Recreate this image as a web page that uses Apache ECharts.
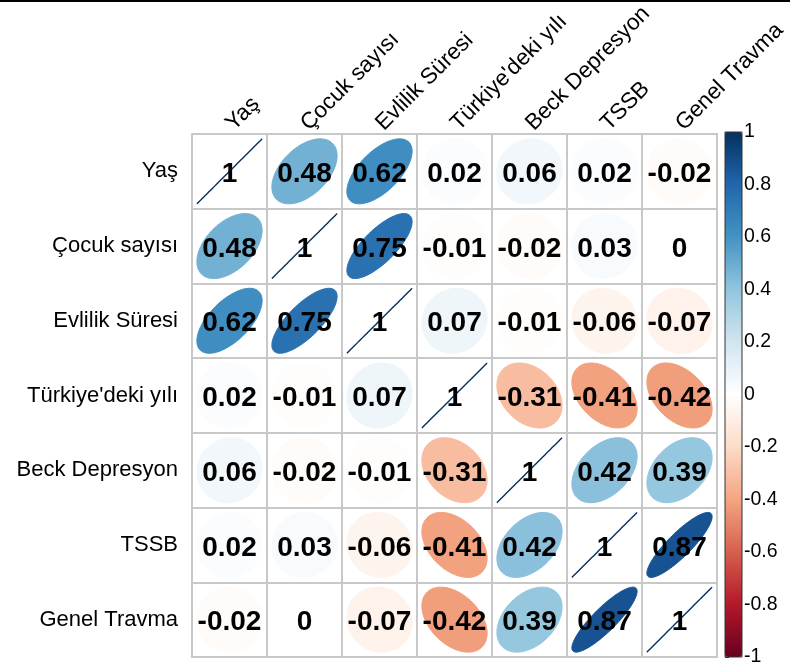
<!DOCTYPE html>
<html>
<head>
<meta charset="utf-8">
<script src="https://cdn.jsdelivr.net/npm/echarts@6/dist/echarts.min.js"></script>
<style>
  html, body { margin: 0; padding: 0; background: #fff; }
  #chart { width: 790px; height: 671px; }
</style>
</head>
<body>
<div id="chart"></div>
<script>
// Variable names (rows top to bottom, columns left to right)
const variables = ['Yaş', 'Çocuk sayısı', 'Evlilik Süresi', "Türkiye'deki yılı", 'Beck Depresyon', 'TSSB', 'Genel Travma'];

// Correlation matrix, one row per variable
const rowYas      = [1, 0.48, 0.62, 0.02, 0.06, 0.02, -0.02];
const rowCocuk    = [0.48, 1, 0.75, -0.01, -0.02, 0.03, 0];
const rowEvlilik  = [0.62, 0.75, 1, 0.07, -0.01, -0.06, -0.07];
const rowTurkiye  = [0.02, -0.01, 0.07, 1, -0.31, -0.41, -0.42];
const rowBeck     = [0.06, -0.02, -0.01, -0.31, 1, 0.42, 0.39];
const rowTSSB     = [0.02, 0.03, -0.06, -0.41, 0.42, 1, 0.87];
const rowGenel    = [-0.02, 0, -0.07, -0.42, 0.39, 0.87, 1];
const corrRows = [rowYas, rowCocuk, rowEvlilik, rowTurkiye, rowBeck, rowTSSB, rowGenel];

// Colour bar ticks
const barTicksMin = -1, barTicksMax = 1, barTickStep = 0.2;

// RdBu diverging palette, low to high
const palette = ['#67001F', '#B2182B', '#D6604D', '#F4A582', '#FDDBC7', '#FFFFFF',
                 '#D1E5F0', '#92C5DE', '#4393C3', '#2166AC', '#053061'];

const cells = [];
corrRows.forEach((row, yi) => row.forEach((r, xi) => cells.push([xi, yi, r])));

const FONT = '"Liberation Sans", Arial, sans-serif';
const GL = 192, GT = 132, GS = 525;

function renderCell(params, api) {
  const xi = api.value(0), yi = api.value(1), r = api.value(2);
  const c = api.coord([xi, yi]);
  const size = api.size([1, 1]);
  const color = api.visual('color');
  const a = Math.acos(Math.max(-1, Math.min(1, r)));
  const pts = [];
  const n = 99;
  for (let i = 0; i < n; i++) {
    const k = 2 * Math.PI * i / (n - 1);
    const ex = Math.cos(k + a / 2) / 2 * 0.87 * size[0];
    const ey = Math.cos(k - a / 2) / 2 * 0.87 * size[1];
    pts.push([c[0] + ex, c[1] - ey]);
  }
  const children = [];
  if (Math.abs(r) >= 0.999) {
    children.push({
      type: 'polyline',
      shape: { points: pts },
      style: { stroke: color, lineWidth: 1.4, fill: null }
    });
  } else {
    children.push({
      type: 'polygon',
      shape: { points: pts },
      style: { fill: color, stroke: color, lineWidth: 1 }
    });
  }
  children.push({
    type: 'text',
    x: c[0],
    y: c[1] + 3,
    z2: 10,
    style: {
      text: String(r),
      align: 'center',
      verticalAlign: 'middle',
      fill: '#000',
      fontSize: 28,
      fontWeight: 'bold',
      fontFamily: FONT
    }
  });
  return { type: 'group', children: children };
}

const chart = echarts.init(document.getElementById('chart'), null, { renderer: 'canvas' });
chart.setOption({
  animation: false,
  backgroundColor: '#fff',
  textStyle: { fontFamily: FONT },
  grid: [
    { left: GL, top: GT, width: GS, height: GS, show: true, borderColor: '#c8c8c8', borderWidth: 2, backgroundColor: 'transparent' },
    { left: 725, top: GT, width: 17, height: GS, show: false }
  ],
  xAxis: [
    {
      gridIndex: 0, type: 'category', data: variables, position: 'top',
      axisLine: { show: false }, axisTick: { show: false },
      splitLine: { show: true, lineStyle: { color: '#c8c8c8', width: 2 } },
      axisLabel: { rotate: -45, align: 'left', verticalAlign: 'middle', color: '#000', fontSize: 22.5, fontFamily: FONT, margin: 7, interval: 0 }
    },
    { gridIndex: 1, type: 'value', show: false, min: 0, max: 1 }
  ],
  yAxis: [
    {
      gridIndex: 0, type: 'category', data: variables, inverse: true,
      axisLine: { show: false }, axisTick: { show: false },
      splitLine: { show: true, lineStyle: { color: '#c8c8c8', width: 2 } },
      axisLabel: { color: '#000', fontSize: 22, fontFamily: FONT, margin: 14, interval: 0 }
    },
    {
      gridIndex: 1, type: 'value', position: 'right',
      min: barTicksMin, max: barTicksMax, interval: barTickStep,
      axisLine: { show: false },
      axisTick: { show: true, length: 4, lineStyle: { color: '#333', width: 1 } },
      splitLine: { show: false },
      axisLabel: { color: '#000', fontSize: 19.5, fontFamily: FONT, margin: 2 }
    }
  ],
  visualMap: {
    type: 'continuous',
    min: -1, max: 1,
    dimension: 2,
    seriesIndex: 0,
    orient: 'vertical',
    left: 725, top: GT,
    itemWidth: 17, itemHeight: GS,
    padding: 0,
    calculable: false,
    hoverLink: false,
    text: null,
    inRange: { color: palette }
  },
  series: [
    {
      type: 'custom',
      xAxisIndex: 0, yAxisIndex: 0,
      data: cells,
      encode: { x: 0, y: 1 },
      renderItem: renderCell,
      silent: true
    }
  ],
  graphic: [
    { type: 'rect', shape: { x: 0, y: 0, width: 790, height: 2 }, style: { fill: '#000' }, z: 100 },
    { type: 'rect', shape: { x: 725, y: GT, width: 17, height: GS }, style: { fill: null, stroke: '#333', lineWidth: 1 }, z: 100 }
  ]
});
</script>
</body>
</html>
